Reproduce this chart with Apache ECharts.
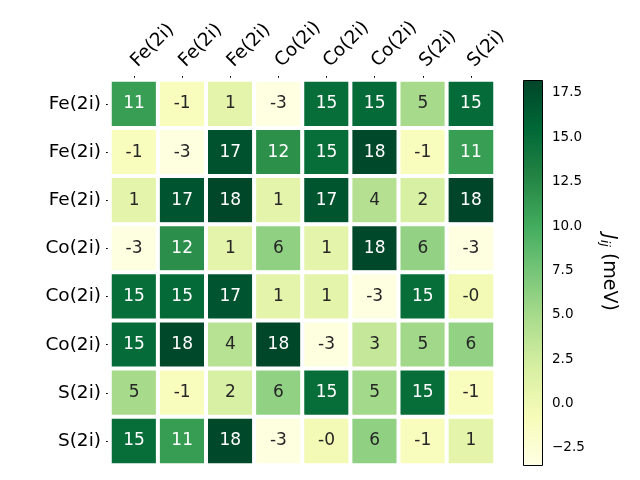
<!DOCTYPE html>
<html>
<head>
<meta charset="utf-8">
<script src="https://cdn.jsdelivr.net/npm/echarts@6/dist/echarts.min.js"></script>
<style>html,body{margin:0;padding:0;background:#fff}#c{width:640px;height:480px}</style>
</head>
<body>
<div id="c"></div>
<script>
const xLabels = ['Fe(2i)','Fe(2i)','Fe(2i)','Co(2i)','Co(2i)','Co(2i)','S(2i)','S(2i)'];
const yLabels = ['Fe(2i)','Fe(2i)','Fe(2i)','Co(2i)','Co(2i)','Co(2i)','S(2i)','S(2i)'];
const row0 = [11.0, -1.0, 1.0, -3.3, 15.0, 15.2, 5.0, 15.1];
const row1 = [-1.0, -3.1, 17.2, 12.0, 15.0, 18.0, -1.0, 11.0];
const row2 = [1.0, 17.1, 18.1, 1.0, 17.0, 4.2, 2.0, 18.2];
const row3 = [-3.2, 12.1, 1.0, 6.2, 1.0, 18.0, 6.0, -3.2];
const row4 = [15.0, 15.2, 17.1, 1.0, 1.0, -3.2, 15.0, -0.3];
const row5 = [15.1, 18.0, 4.0, 18.1, -3.1, 3.2, 5.3, 6.0];
const row6 = [5.0, -1.0, 2.0, 6.1, 15.0, 5.2, 15.0, -1.0];
const row7 = [15.0, 11.1, 18.0, -3.1, -0.3, 6.2, -1.0, 1.0];
const rows = [row0,row1,row2,row3,row4,row5,row6,row7];
const cbMin = -3.46, cbMax = 18.23;
const cbTicks = [-2.5, 0, 2.5, 5, 7.5, 10, 12.5, 15, 17.5];
const ylgn = ['#ffffe5','#f7fcb9','#d9f0a3','#addd8e','#78c679','#41ab5d','#238443','#006837','#004529'];

const data = [];
rows.forEach((r, yi) => r.forEach((v, xi) => {
  data.push({value: [xi, yi, v], label: {color: v > 8 ? '#ffffff' : '#262626'}});
}));

const font = 'DejaVu Sans';
const chart = echarts.init(document.getElementById('c'), null, {renderer: 'canvas'});
const gradStops = ylgn.map((c, i) => ({offset: 1 - i / (ylgn.length - 1), color: c}));

chart.setOption({
  animation: false,
  backgroundColor: '#fff',
  textStyle: {fontFamily: font},
  grid: [
    {left: 110, top: 80, width: 385, height: 385},
    {left: 523, top: 80, width: 19, height: 385}
  ],
  xAxis: [
    {type: 'category', data: xLabels, position: 'top', gridIndex: 0,
     axisLine: {show: false}, splitLine: {show: false},
     axisTick: {show: true, alignWithLabel: true, length: 4, lineStyle: {color: '#000'}},
     axisLabel: {rotate: -45, fontSize: 18.5, color: '#000', fontFamily: font, margin: 16, interval: 0}},
    {type: 'value', gridIndex: 1, show: false, min: 0, max: 1}
  ],
  yAxis: [
    {type: 'category', data: yLabels, inverse: true, gridIndex: 0,
     axisLine: {show: false}, splitLine: {show: false},
     axisTick: {show: true, alignWithLabel: true, length: 4, lineStyle: {color: '#000'}},
     axisLabel: {fontSize: 18.5, color: '#000', fontFamily: font, margin: 9, interval: 0}},
    {type: 'value', gridIndex: 1, position: 'right', min: cbMin, max: cbMax,
     axisLine: {show: false}, splitLine: {show: false},
     axisTick: {show: true, length: 4, lineStyle: {color: '#000'}, customValues: cbTicks},
     axisLabel: {fontSize: 13.5, color: '#000', fontFamily: font, margin: 10, customValues: cbTicks,
       formatter: v => v.toFixed(1).replace('-', '\u2212')},
     name: '{j|J}{s|ij} (meV)', nameLocation: 'middle', nameRotate: -90, nameGap: 56,
     nameTextStyle: {fontSize: 19, color: '#000', fontFamily: font,
       rich: {j: {fontSize: 19, fontStyle: 'italic', fontFamily: font},
              s: {fontSize: 13, fontStyle: 'italic', fontFamily: font, verticalAlign: 'bottom', padding: [8,0,0,0]}}}}
  ],
  visualMap: {show: false, type: 'continuous', min: cbMin, max: cbMax, dimension: 2, seriesIndex: 0,
    inRange: {color: ylgn}},
  series: [{
    type: 'heatmap', xAxisIndex: 0, yAxisIndex: 0, data: data,
    itemStyle: {borderColor: '#fff', borderWidth: 4},
    label: {show: true, fontSize: 17, fontFamily: font, formatter: p => p.value[2].toFixed(0)},
    emphasis: {disabled: true}
  }],
  graphic: [{
    type: 'rect', left: 523, top: 80, z: 10,
    shape: {width: 19, height: 385},
    style: {fill: new echarts.graphic.LinearGradient(0, 0, 0, 1, gradStops), stroke: '#000', lineWidth: 1}
  }]
});
</script>
</body>
</html>
